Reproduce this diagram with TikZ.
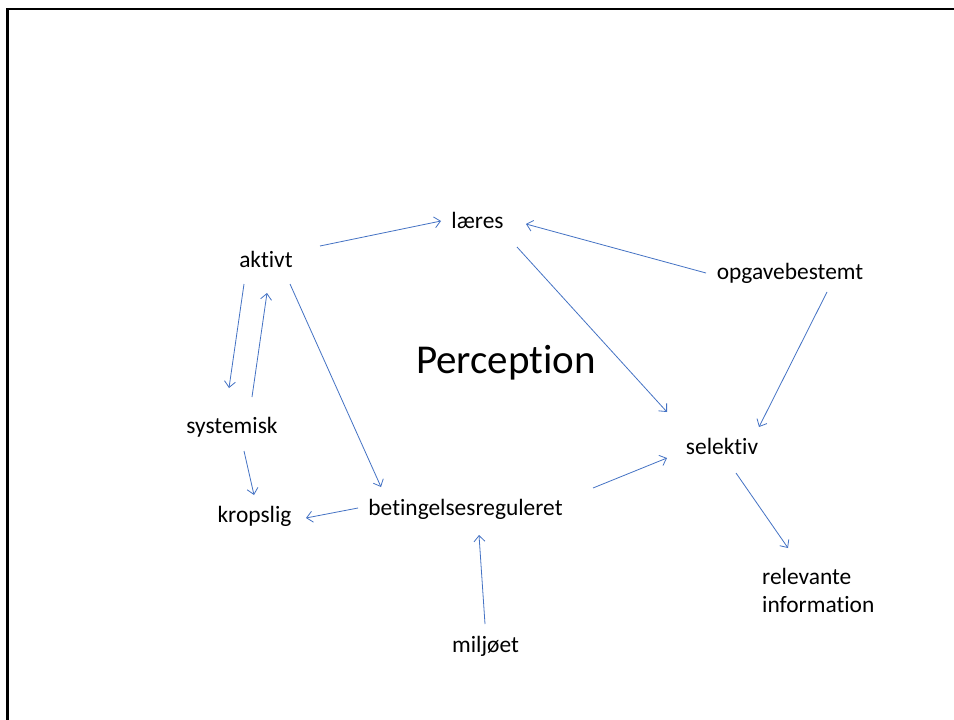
\documentclass[tikz,border=0pt]{standalone}
\usepackage{fontspec}
\setmainfont{Carlito}[Ligatures={NoCommon}]
\usetikzlibrary{arrows.meta,calc}
\definecolor{arrowblue}{RGB}{68,114,196}
\tikzset{
  lbl/.style={inner sep=0pt, anchor=base, font=\fontsize{23.4}{28}\selectfont},
  title/.style={inner sep=0pt, anchor=base, font=\fontsize{41}{49}\selectfont},
  conn/.style={draw=arrowblue, line width=0.8pt, -{Straight Barb[length=6pt,width=11pt]}},
  frame/.style={draw=black, line width=2.6pt}
}
\begin{document}
\begin{tikzpicture}[x=1pt,y=-1pt]
\clip (0,0) rectangle (954,720);
\fill[white] (0,0) rectangle (954,720);
\coordinate (fa) at (7.5,730);
\coordinate (fb) at (7.5,9);
\coordinate (fc) at (964,9);
\draw[frame] (fa) -- (fb) -- (fc);

\node[lbl] (laeres) at (477.5,228) {læres};
\node[lbl] (aktivt) at (266,267) {aktivt};
\node[lbl] (opg) at (790,279) {opgavebestemt};
\node[title] (perc) at (506,373) {Perception};
\node[lbl] (syst) at (232,433) {systemisk};
\node[lbl] (sel) at (722,454) {selektiv};
\node[lbl] (krop) at (254.5,522) {kropslig};
\node[lbl] (bet) at (465.5,515) {betingelsesreguleret};
\node[lbl, anchor=north west, align=left] (rel) at (762,568) {relevante\\information};
\node[lbl] (milj) at (485.5,652) {miljøet};

\draw[conn] ($(aktivt.base)+(54,-21)$) -- ($(laeres.base)+(-36.5,-7)$);
\draw[conn] ($(opg.base)+(-84,-6)$) -- ($(laeres.base)+(48.5,-4)$);
\draw[conn] ($(laeres.base)+(39.5,19)$) -- ($(sel.base)+(-55,-42)$);
\draw[conn] ($(opg.base)+(37,13)$) -- ($(sel.base)+(37,-27)$);
\draw[conn] ($(aktivt.base)+(-22,17)$) -- ($(syst.base)+(-3,-45)$);
\draw[conn] ($(syst.base)+(20,-36)$) -- ($(aktivt.base)+(1,26)$);
\draw[conn] ($(aktivt.base)+(24,17)$) -- ($(bet.base)+(-84.5,-28)$);
\draw[conn] ($(syst.base)+(12,18)$) -- ($(krop.base)+(-0.5,-27)$);
\draw[conn] ($(bet.base)+(-107.5,-7)$) -- ($(krop.base)+(51.5,-4)$);
\draw[conn] ($(bet.base)+(127.5,-27)$) -- ($(sel.base)+(-55,4)$);
\draw[conn] ($(sel.base)+(14,19)$) -- ($(rel.north west)+(26,-20)$);
\draw[conn] ($(milj.base)+(-0.5,-28)$) -- ($(bet.base)+(13.5,20)$);
\end{tikzpicture}
\end{document}
